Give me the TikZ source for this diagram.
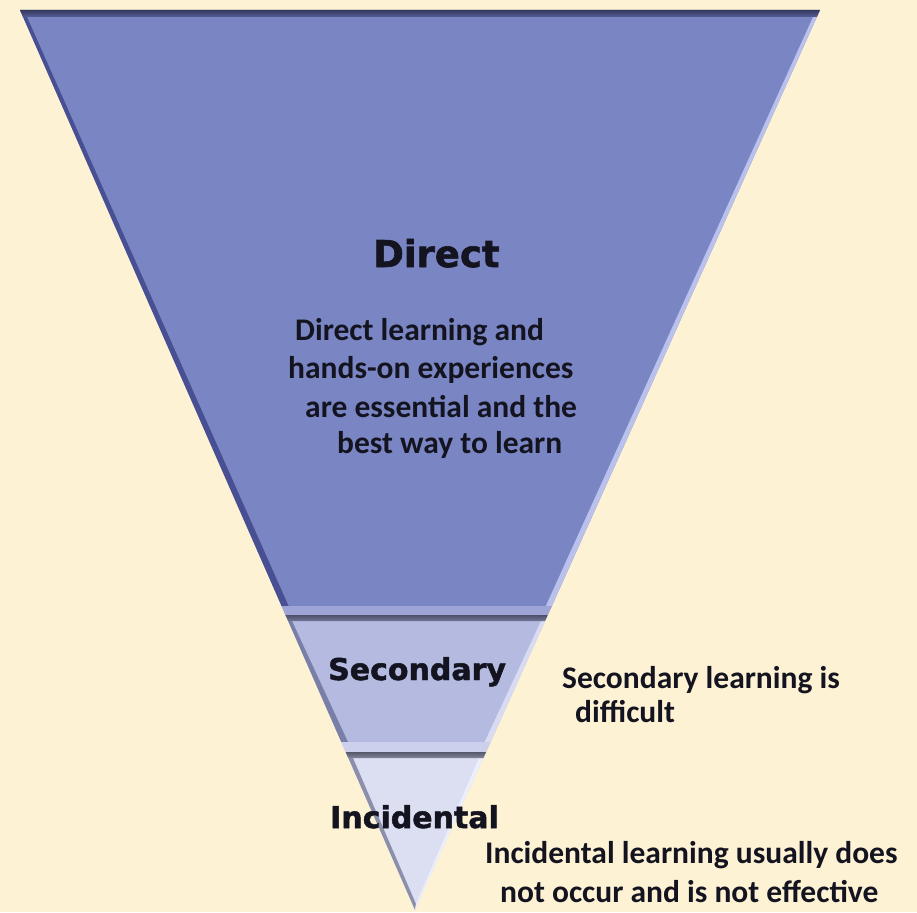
\documentclass[tikz,border=0pt]{standalone}
\usepackage{fontspec}
\setmainfont{Carlito}
\newfontfamily\headfont{DejaVu Sans}[BoldFeatures={FakeBold=1.6}]
\definecolor{paper}{RGB}{253,242,212}
\definecolor{ink}{RGB}{20,20,32}
% top tier
\definecolor{dirfill}{RGB}{122,133,195}
\definecolor{dirtopA}{RGB}{52,56,96}
\definecolor{dirtopB}{RGB}{86,93,150}
\definecolor{dirleft}{RGB}{72,79,146}
\definecolor{dirright}{RGB}{186,193,236}
\definecolor{dirbottom}{RGB}{158,165,214}
% middle tier
\definecolor{secfill}{RGB}{180,186,224}
\definecolor{sectopA}{RGB}{78,80,106}
\definecolor{sectopB}{RGB}{112,116,150}
\definecolor{secleft}{RGB}{122,127,168}
\definecolor{secright}{RGB}{216,219,241}
\definecolor{secbottom}{RGB}{204,208,236}
% bottom tier
\definecolor{incfill}{RGB}{220,223,242}
\definecolor{inctopA}{RGB}{86,88,106}
\definecolor{inctopB}{RGB}{130,133,156}
\definecolor{incleft}{RGB}{140,143,172}
\definecolor{incright}{RGB}{236,238,249}
\begin{document}
\begin{tikzpicture}[x=1pt,y=-1pt,
  heading/.style={font=\headfont\bfseries\fontsize{30}{36}\selectfont, text=ink, anchor=base west, inner sep=0pt},
  bigheading/.style={heading, font=\headfont\bfseries\fontsize{37}{44}\selectfont},
  note/.style={font=\bfseries\fontsize{31.5}{38}\selectfont, text=ink, anchor=base west, inner sep=0pt}]
\useasboundingbox (0,0) rectangle (917,912);
\fill[paper] (0,0) rectangle (917,912);

% ---- Direct tier ----
\fill[dirfill] (20,10) -- (820,10) -- (547.75,615) -- (285.5,615) -- cycle;
\fill[dirleft] (20,10) -- (27,17) -- (288.6,606) -- (281.6,606) -- cycle;
\fill[dirright] (820,10) -- (813,17) -- (545.8,606) -- (551.8,606) -- cycle;
\fill[dirbottom] (281.6,606) -- (551.8,606) -- (547.75,615) -- (285.5,615) -- cycle;
\shade[top color=dirtopA, bottom color=dirtopB] (20,10) -- (820,10) -- (816.9,17) -- (23.1,17) -- cycle;

% ---- Secondary tier ----
\fill[secfill] (285.5,615) -- (547.75,615) -- (486.1,752) -- (345.7,752) -- cycle;
\fill[secleft] (285.5,615) -- (292,621) -- (348,742) -- (341.3,742) -- cycle;
\fill[secright] (547.75,615) -- (541,621) -- (484.6,742) -- (490.6,742) -- cycle;
\fill[secbottom] (341.3,742) -- (490.6,742) -- (486.1,752) -- (345.7,752) -- cycle;
\shade[top color=sectopA, bottom color=sectopB] (285.5,615) -- (547.75,615) -- (545.05,621) -- (288.2,621) -- cycle;

% ---- Incidental tier ----
\fill[incfill] (345.7,752) -- (486.1,752) -- (415,910) -- cycle;
\fill[incleft] (345.7,752) -- (353,758) -- (416,904) -- (415,910) -- cycle;
\fill[incright] (486.1,752) -- (479,758) -- (416,904) -- (415,910) -- cycle;
\shade[top color=inctopA, bottom color=inctopB] (345.7,752) -- (486.1,752) -- (483.4,758) -- (348.3,758) -- cycle;

% ---- labels ----
\node[bigheading] (direct) at (373,267) {Direct};
\node[note] (d1) at (295,340) {Direct learning and};
\node[note] (d2) at (288,378) {hands-on experiences};
\node[note] (d3) at (305,417) {are essential and the};
\node[note] (d4) at (337,453) {best way to learn};

\node[heading] (secondary) at (328,680) {Secondary};
\node[note] (s1) at (562,688) {Secondary learning is};
\node[note] (s2) at (575,722) {difficult};

\node[heading] (incidental) at (330,828) {Incidental};
\node[note] (i1) at (485,863) {Incidental learning usually does};
\node[note] (i2) at (500,902) {not occur and is not effective};
\end{tikzpicture}
\end{document}
